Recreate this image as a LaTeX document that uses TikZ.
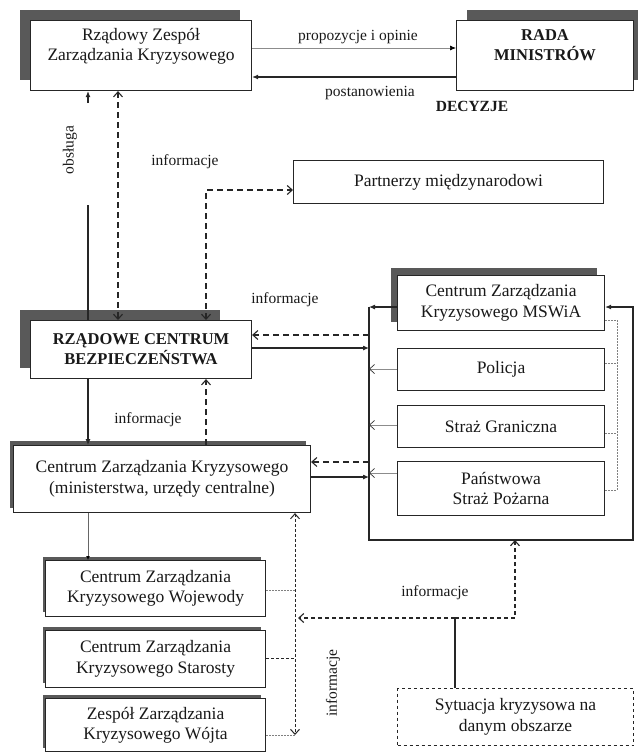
\documentclass[tikz,border=0pt]{standalone}
\usepackage{fontspec}
\setmainfont{Liberation Serif}
\usetikzlibrary{positioning,arrows.meta}

\begin{document}
\begin{tikzpicture}[x=1pt, y=-1pt, draw=black!85, text=black!90,
  box/.style={draw, line width=1.1pt, fill=white, align=center, inner sep=1pt,
    anchor=north west, font=\fontsize{17.5}{20.5}\selectfont},
  boldbox/.style={box, font=\bfseries\fontsize{16.5}{20}\selectfont},
  shade/.style={fill=black!65},
  lbl/.style={font=\fontsize{15.5}{18}\selectfont, inner sep=1pt},
  full/.style={line width=1.1pt, -{Latex[length=6pt,width=5pt]}},
  info/.style={line width=1.1pt, dash pattern=on 6pt off 4pt,
    >={Straight Barb[length=5pt,width=9pt]}, ->},
  infob/.style={info, <->},
  fine/.style={draw=black!45, line width=0.7pt},
  rdot/.style={draw=black!50, line width=0.7pt, dash pattern=on 1.5pt off 1.5pt},
  ]
  \useasboundingbox (0,0) rectangle (638,756);

  % upper level
  \fill[shade] (20,10) rectangle (240,80);
  \node[box, minimum width=221, minimum height=70, text depth=22pt] (rzzk) at (30,20)
    {Rządowy Zespół\\Zarządzania Kryzysowego};
  \fill[shade] (467,10) rectangle (638,80);
  \node[boldbox, minimum width=177, minimum height=70, text depth=22pt] (rada) at (456,20)
    {RADA\\MINISTRÓW};
  \node[box, minimum width=310, minimum height=43] (part) at (293,160)
    {Partnerzy międzynarodowi};

  \fill[shade] (20,310) rectangle (220,368);
  \node[boldbox, minimum width=221, minimum height=58] (rcb) at (30,320)
    {RZĄDOWE CENTRUM\\BEZPIECZEŃSTWA};

  % services
  \fill[shade] (391,268) rectangle (597,322);
  \node[box, minimum width=207, minimum height=55] (mswia) at (397,275)
    {Centrum Zarządzania\\Kryzysowego MSWiA};
  \node[box, minimum width=207, minimum height=42] (pol) at (397,348) {Policja};
  \node[box, minimum width=207, minimum height=42] (sg) at (397,405) {Straż Graniczna};
  \node[box, minimum width=207, minimum height=54] (psp) at (397,461)
    {Państwowa\\Straż Pożarna};

  % lower levels
  \fill[shade] (10,441) rectangle (306,508);
  \node[box, minimum width=297, minimum height=67] (czk) at (13,445)
    {Centrum Zarządzania Kryzysowego\\(ministerstwa, urzędy centralne)};
  \fill[shade] (43,557) rectangle (261,612);
  \node[box, minimum width=220, minimum height=56] (woj) at (45,560)
    {Centrum Zarządzania\\Kryzysowego Wojewody};
  \fill[shade] (43,627) rectangle (261,683);
  \node[box, minimum width=220, minimum height=57] (star) at (45,630)
    {Centrum Zarządzania\\Kryzysowego Starosty};
  \fill[shade] (43,695) rectangle (261,748);
  \node[box, minimum width=220, minimum height=53] (wojt) at (45,698)
    {Zespół Zarządzania\\Kryzysowego Wójta};
  \node[box, dashed, minimum width=236, minimum height=57] (syt) at (397,688)
    {Sytuacja kryzysowa na\\danym obszarze};

  % helper coordinates
  \coordinate (xa) at (88,0);
  \coordinate (xb) at (118,0);
  \coordinate (xc) at (206,0);
  \coordinate (xd) at (295,0);
  \coordinate (xf) at (515,0);
  \coordinate (xg) at (617,0);
  \coordinate (ctl) at (369,307);
  \coordinate (cbl) at (369,540);
  \coordinate (cbr) at (633,540);
  \coordinate (ctr) at (633,307);

  % RZZK - RADA
  \draw[fine, -{Latex[length=6pt,width=5pt,color=black]}] (rzzk.east |- 0,48) -- (rada.west |- 0,48);
  \draw[full] (rada.west |- 0,77) -- (rzzk.east |- 0,77);
  \node[lbl] (prop) at (358,37) {propozycje i opinie};
  \node[lbl] (post) at (370,93) {postanowienia};
  \node[lbl, font=\bfseries\fontsize{15.5}{18}\selectfont] (dec) at (472,106) {DECYZJE};

  % RZZK - RCB
  \coordinate (obsA) at (88,103);
  \coordinate (obsB) at (88,205);
  \draw[full] (obsA) -- (rzzk.south -| obsA);
  \draw[line width=1.1pt] (rcb.north -| obsB) -- (obsB);
  \node[lbl, rotate=90] (obsl) at (70,150) {obsługa};
  \draw[infob] (rzzk.south -| xb) -- (rcb.north -| xb);
  \node[lbl] (inf1) at (185,162) {informacje};
  \draw[infob] (rcb.north -| xc) |- (part.west |- 0,190);

  % RCB - centre MSWiA
  \draw[info] (ctl |- 0,335) -- (rcb.east |- 0,335);
  \draw[full] (rcb.east |- 0,348) -- (ctl |- 0,348);
  \node[lbl] (inf2) at (285,300) {informacje};

  % frame round the services
  \draw[full] (mswia.west |- ctl) -- (ctl);
  \draw[full] (ctl) -- (cbl) -- (cbr) -- (ctr) -- (mswia.east |- ctr);
  \foreach \s/\y in {pol/369, sg/425, psp/473}
    \draw[fine, >={Straight Barb[length=5pt,width=9pt,color=black!80]}, ->] (\s.west |- 0,\y) -- (ctl |- 0,\y);
  \draw[rdot] (mswia.east |- 0,320) -| (xg |- 0,490) -- (psp.east |- 0,490);
  \draw[rdot] (pol.east |- 0,363) -- (xg |- 0,363);
  \draw[rdot] (sg.east |- 0,433) -- (xg |- 0,433);

  % RCB - CZK
  \draw[full] (rcb.south -| xa) -- (czk.north -| xa);
  \node[lbl] (inf3) at (148,420) {informacje};
  \draw[info] (czk.north -| xc) -- (rcb.south -| xc);
  \draw[info] (ctl |- 0,462) -- (czk.east |- 0,462);
  \draw[full] (czk.east |- 0,477) -- (ctl |- 0,477);

  % CZK - lower levels
  \draw[draw=black!60, line width=0.8pt, -{Latex[length=4pt,width=4pt,color=black]}] (czk.south -| xa) -- (woj.north -| xa);
  \coordinate (dend) at (295,735);
  \draw[line width=1pt, dash pattern=on 3pt off 2pt,
    >={Straight Barb[length=5pt,width=9pt]}, <->] (czk.south -| xd) -- (dend);
  \draw[rdot] (woj.east |- 0,590) -- (xd |- 0,590);
  \draw[line width=1pt, dash pattern=on 3pt off 2pt] (star.east |- 0,658) -- (xd |- 0,658);
  \draw[rdot] (wojt.east |- 0,735) -- (dend);

  % crisis situation
  \coordinate (jn) at (455,618);
  \draw[line width=1.1pt] (syt.north -| jn) -- (jn);
  \draw[info, dash pattern=on 4pt off 3pt] (jn) -- (298,618);
  \draw[info, dash pattern=on 4pt off 3pt] (jn) -| (cbl -| xf);
  \node[lbl] (inf4) at (435,593) {informacje};
  \node[lbl, rotate=90] (inf5) at (333,683) {informacje};
\end{tikzpicture}
\end{document}
